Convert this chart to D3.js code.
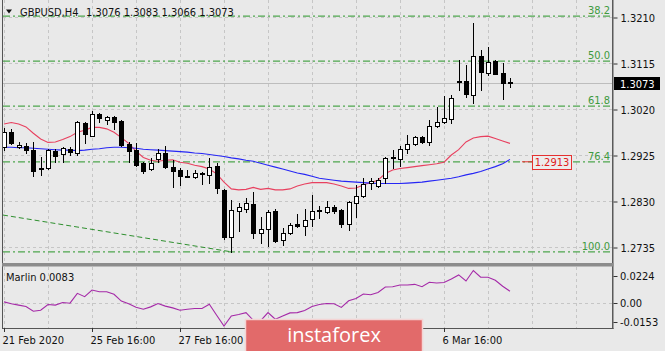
<!DOCTYPE html>
<html>
<head>
<meta charset="utf-8">
<script src="https://cdn.jsdelivr.net/npm/d3@7"></script>
<style>
    html, body { margin: 0; padding: 0; background: #e9e9e9; overflow: hidden; }
    svg text { font-family: "DejaVu Sans Condensed", "DejaVu Sans", sans-serif; font-stretch: condensed; font-size: 11px; }
</style>
</head>
<body>
<div id="chart"></div>
<script>
/* GBPUSD H4 with fibo levels, two moving averages and a Marlin sub window */

// ---- data ----
const symbol = "GBPUSD,H4";

const openP = [1.2941,1.2972,1.2941,1.2944,1.2935,1.2898,1.2898,1.2933,1.2927,1.2937,
    1.2929,1.2991,1.2964,1.3010,1.2997,1.3003,1.2995,1.2948,1.2935,1.2908,
    1.2896,1.2917,1.2929,1.2900,1.2894,1.2882,1.2879,1.2888,1.2884,1.2902,
    1.2853,1.2756,1.2809,1.2813,1.2824,1.2764,1.2772,1.2809,1.2749,1.2764,
    1.2782,1.2778,1.2793,1.2811,1.2807,1.2818,1.2811,1.2782,1.2826,1.2840,
    1.2867,1.2861,1.2877,1.2919,1.2917,1.2937,1.2948,1.2962,1.2952,1.2985,
    1.2993,1.2999,1.3076,1.3078,1.3049,1.3129,1.3094,1.3119,1.3094,1.3076];

const highP = [1.2981,1.2979,1.2952,1.2950,1.2952,1.2921,1.2937,1.2937,1.2941,1.2941,
    1.2995,1.2993,1.3016,1.3012,1.3005,1.3005,1.2997,1.2952,1.2950,1.2910,
    1.2919,1.2937,1.2944,1.2915,1.2898,1.2894,1.2894,1.2890,1.2919,1.2908,
    1.2855,1.2832,1.2826,1.2836,1.2849,1.2797,1.2811,1.2813,1.2774,1.2785,
    1.2803,1.2813,1.2842,1.2820,1.2830,1.2822,1.2813,1.2830,1.2863,1.2877,
    1.2877,1.2877,1.2921,1.2935,1.2944,1.2966,1.2964,1.2964,1.2997,1.3024,
    1.3047,1.3049,1.3121,1.3111,1.3197,1.3142,1.3148,1.3121,1.3115,1.3083];

const lowP = [1.2935,1.2948,1.2939,1.2929,1.2882,1.2884,1.2896,1.2910,1.2910,1.2925,
    1.2925,1.2950,1.2964,1.2993,1.2989,1.2979,1.2944,1.2910,1.2902,1.2888,
    1.2894,1.2910,1.2898,1.2859,1.2863,1.2879,1.2877,1.2865,1.2867,1.2847,
    1.2751,1.2725,1.2768,1.2807,1.2754,1.2743,1.2737,1.2745,1.2739,1.2762,
    1.2776,1.2760,1.2778,1.2795,1.2805,1.2805,1.2776,1.2770,1.2797,1.2838,
    1.2855,1.2859,1.2867,1.2898,1.2902,1.2929,1.2946,1.2950,1.2946,1.2983,
    1.2991,1.2991,1.3059,1.3045,1.3032,1.3059,1.3090,1.3092,1.3041,1.3066];

const closeP = [1.2972,1.2950,1.2946,1.2935,1.2892,1.2896,1.2935,1.2923,1.2939,1.2931,
    1.2993,1.2968,1.3010,1.3001,1.3003,1.2993,1.2946,1.2933,1.2904,1.2892,
    1.2908,1.2929,1.2900,1.2892,1.2882,1.2880,1.2888,1.2886,1.2900,1.2857,
    1.2756,1.2811,1.2818,1.2826,1.2764,1.2772,1.2807,1.2747,1.2764,1.2780,
    1.2778,1.2791,1.2809,1.2809,1.2818,1.2809,1.2782,1.2828,1.2840,1.2865,
    1.2871,1.2873,1.2919,1.2921,1.2937,1.2948,1.2962,1.2952,1.2985,1.2993,
    1.3001,1.3043,1.3078,1.3051,1.3129,1.3096,1.3117,1.3092,1.3074,1.3073];

// fast (red) and slow (blue) moving averages
const maFast = [1.2989,1.2992,1.2989,1.2983,1.2970,1.2958,1.2951,1.2952,1.2957,1.2963,
    1.2972,1.2976,1.2982,1.2982,1.2979,1.2972,1.2961,1.2949,1.2933,1.2920,
    1.2914,1.2912,1.2914,1.2915,1.2910,1.2908,1.2904,1.2901,1.2896,1.2886,
    1.2869,1.2855,1.2853,1.2854,1.2858,1.2854,1.2856,1.2853,1.2853,1.2855,
    1.2861,1.2865,1.2868,1.2868,1.2868,1.2865,1.2861,1.2856,1.2857,1.2863,
    1.2868,1.2873,1.2887,1.2894,1.2897,1.2899,1.2901,1.2903,1.2905,1.2907,
    1.2910,1.2925,1.2936,1.2952,1.2960,1.2963,1.2964,1.2959,1.2954,1.2949];

const maSlow = [1.2941,1.2941,1.2940,1.2940,1.2939,1.2938,1.2937,1.2936,1.2935,1.2935,
    1.2934,1.2935,1.2937,1.2938,1.2940,1.2941,1.2941,1.2940,1.2939,1.2937,
    1.2936,1.2935,1.2934,1.2933,1.2932,1.2931,1.2929,1.2928,1.2926,1.2924,
    1.2922,1.2919,1.2917,1.2914,1.2912,1.2908,1.2904,1.2900,1.2896,1.2892,
    1.2888,1.2885,1.2881,1.2877,1.2875,1.2873,1.2871,1.2870,1.2869,1.2868,
    1.2867,1.2866,1.2866,1.2866,1.2866,1.2867,1.2868,1.2869,1.2871,1.2873,
    1.2875,1.2877,1.2880,1.2884,1.2887,1.2891,1.2896,1.2901,1.2907,1.2916];

const marlin = [0.0011,-0.0002,-0.0011,-0.0021,-0.0053,-0.0046,-0.0007,-0.0011,0.0007,0.0002,
    0.0069,0.0046,0.0091,0.0080,0.0080,0.0062,0.0016,-0.0002,-0.0025,-0.0039,
    -0.0023,0.0000,-0.0018,-0.0030,-0.0046,-0.0039,-0.0034,-0.0034,-0.0005,-0.0080,
    -0.0153,-0.0085,-0.0075,-0.0062,-0.0114,-0.0117,-0.0062,-0.0107,-0.0085,-0.0064,
    -0.0062,-0.0048,-0.0021,-0.0007,0.0000,-0.0002,-0.0027,0.0018,0.0034,0.0064,
    0.0059,0.0075,0.0112,0.0114,0.0126,0.0126,0.0130,0.0114,0.0144,0.0139,
    0.0142,0.0167,0.0194,0.0153,0.0224,0.0178,0.0178,0.0158,0.0117,0.0083];

const priceTicks = [1.3210, 1.3115, 1.3020, 1.2925, 1.2830, 1.2735];
const marlinTicks = [0.0224, 0.00, -0.0153];
const marlinTickText = ["0.0224", "0.00", "-0.0153"];

// labels under the watermark are not visible in the picture, so only these
const dateBars = [0, 12, 24, 60];
const dateLabels = ["21 Feb 2020", "25 Feb 16:00", "27 Feb 16:00", "6 Mar 16:00"];

// fibo retracement
const fibLow = 1.2725, fibHigh = 1.3513;
const fibLevels = [38.2, 50.0, 61.8, 76.4, 100.0];

// trend line (bar index, price)
const trendBars = [0, 31];
const trendPrices = [1.2801, 1.2725];

const labelPrice = 1.2913;

// ---- layout ----
const W = 665, H = 351;
const main = {left: 3, right: 612, top: 0, bottom: 263};
const sub = {top: 267, bottom: 328};

const svg = d3.select("#chart").append("svg")
    .attr("width", W)
    .attr("height", H);

svg.append("rect").attr("width", W).attr("height", H).attr("fill", "#e9e9e9");

// 6 bars (one day) per grid column
const x = d3.scaleLinear().domain([0, 6]).range([4, 48]);
const y = d3.scaleLinear().domain([1.2735, 1.3210]).range([247, 17]);
const ySub = d3.scaleLinear().domain([-0.0153, 0.0224]).range([326, 270.5]);

const defs = svg.append("defs");
defs.append("clipPath").attr("id", "clipMain").append("rect")
    .attr("x", main.left).attr("y", main.top)
    .attr("width", main.right - main.left).attr("height", main.bottom - main.top);
defs.append("clipPath").attr("id", "clipSub").append("rect")
    .attr("x", main.left).attr("y", sub.top)
    .attr("width", main.right - main.left).attr("height", sub.bottom - sub.top);

const gMain = svg.append("g").attr("clip-path", "url(#clipMain)");
const gSub = svg.append("g").attr("clip-path", "url(#clipSub)");

// ---- grid ----
const gridX = d3.range(0, 84, 6);
[gMain, gSub].forEach((g, k) => {
    g.selectAll(".vgrid")
        .data(gridX)
        .enter().append("line")
        .attr("x1", d => Math.round(x(d)) + 0.5)
        .attr("x2", d => Math.round(x(d)) + 0.5)
        .attr("y1", k === 0 ? main.top : sub.top)
        .attr("y2", k === 0 ? main.bottom : sub.bottom)
        .attr("stroke", "#c6c6c6")
        .attr("stroke-dasharray", "3,3");
});

gMain.selectAll(".hgrid")
    .data(priceTicks)
    .enter().append("line")
    .attr("x1", main.left).attr("x2", main.right)
    .attr("y1", d => Math.round(y(d)) + 0.5)
    .attr("y2", d => Math.round(y(d)) + 0.5)
    .attr("stroke", "#c6c6c6")
    .attr("stroke-dasharray", "3,3");

gSub.append("line")
    .attr("x1", main.left).attr("x2", main.right)
    .attr("y1", Math.round(ySub(0)) + 0.5).attr("y2", Math.round(ySub(0)) + 0.5)
    .attr("stroke", "#c6c6c6")
    .attr("stroke-dasharray", "3,3");

// current price line
const lastClose = closeP[closeP.length - 1];
gMain.append("line")
    .attr("x1", main.left).attr("x2", main.right)
    .attr("y1", Math.round(y(lastClose)) + 0.5).attr("y2", Math.round(y(lastClose)) + 0.5)
    .attr("stroke", "#bdbdbd");

// ---- fibo levels ----
const fibPrice = lvl => fibLow + (1 - lvl / 100) * (fibHigh - fibLow);

gMain.selectAll(".fib")
    .data(fibLevels)
    .enter().append("line")
    .attr("x1", main.left).attr("x2", main.right)
    .attr("y1", d => y(fibPrice(d)))
    .attr("y2", d => y(fibPrice(d)))
    .attr("stroke", "#4ea64e")
    .attr("stroke-width", 1.3)
    .attr("stroke-dasharray", "7,3,2,3");

gMain.selectAll(".fibText")
    .data(fibLevels)
    .enter().append("text")
    .attr("x", 610)
    .attr("y", d => y(fibPrice(d)) - 2)
    .attr("text-anchor", "end")
    .attr("fill", "#3e9a3e")
    .text(d => d.toFixed(1));

// trend line
gMain.append("line")
    .attr("x1", x(trendBars[0]) - 1).attr("y1", y(trendPrices[0]))
    .attr("x2", x(trendBars[1])).attr("y2", y(trendPrices[1]))
    .attr("stroke", "#2e8f2e")
    .attr("stroke-dasharray", "5,3");

// ---- moving averages ----
const line = d3.line().x((d, i) => x(i)).y(d => y(d));

gMain.append("path").datum(maFast)
    .attr("d", line).attr("fill", "none")
    .attr("stroke", "#e8405f").attr("stroke-width", 1.1);

gMain.append("path").datum(maSlow)
    .attr("d", line).attr("fill", "none")
    .attr("stroke", "#2626f5").attr("stroke-width", 1.1);

// ---- candles ----
const candles = openP.map((o, i) => ({i: i, o: o, h: highP[i], l: lowP[i], c: closeP[i]}));

const gCandle = gMain.selectAll(".candle")
    .data(candles)
    .enter().append("g");

gCandle.append("line")
    .attr("x1", d => Math.round(x(d.i)) + 0.5)
    .attr("x2", d => Math.round(x(d.i)) + 0.5)
    .attr("y1", d => Math.round(y(d.h)))
    .attr("y2", d => Math.round(y(d.l)) + 1)
    .attr("stroke", "#000");

gCandle.append("rect")
    .attr("x", d => Math.round(x(d.i)) - 1.5)
    .attr("y", d => Math.round(y(Math.max(d.o, d.c))) + 0.5)
    .attr("width", 4)
    .attr("height", d => Math.max(0, Math.round(y(Math.min(d.o, d.c))) - Math.round(y(Math.max(d.o, d.c)))))
    .attr("fill", d => d.c >= d.o ? "#fff" : "#000")
    .attr("stroke", "#000");

// ---- marlin ----
const subLine = d3.line().x((d, i) => x(i)).y(d => ySub(d));
gSub.append("path").datum(marlin)
    .attr("d", subLine).attr("fill", "none")
    .attr("stroke", "#a52aa8").attr("stroke-width", 1.1);

// ---- frame ----
svg.append("line").attr("x1", 2.5).attr("x2", 2.5).attr("y1", 0).attr("y2", sub.bottom)
    .attr("stroke", "#555");
svg.append("line").attr("x1", 612.75).attr("x2", 612.75).attr("y1", 0).attr("y2", sub.bottom + 1)
    .attr("stroke", "#5a5a5a").attr("stroke-width", 1.5);
svg.append("rect").attr("x", 2).attr("y", 263).attr("width", 611.5).attr("height", 3.5)
    .attr("fill", "#8c8c8c");
svg.append("line").attr("x1", 2).attr("x2", 613.5).attr("y1", sub.bottom + 0.5).attr("y2", sub.bottom + 0.5)
    .attr("stroke", "#555");

// ---- price axis ----
const yAxis = d3.axisRight(y)
    .tickValues(priceTicks)
    .tickSize(4)
    .tickPadding(3)
    .tickFormat(d3.format(".4f"));

const gAxis = svg.append("g")
    .attr("transform", "translate(613.5,0.5)")
    .call(yAxis);
gAxis.select(".domain").remove();
gAxis.selectAll(".tick line").attr("stroke", "#333");
gAxis.selectAll("text").attr("fill", "#111").style("font-size", "11px")
    .style("font-family", "'DejaVu Sans Condensed', 'DejaVu Sans', sans-serif");

// current price tag
svg.append("rect")
    .attr("x", 614).attr("y", Math.round(y(lastClose)) - 6)
    .attr("width", 46).attr("height", 13)
    .attr("fill", "#000");
svg.append("text")
    .attr("x", 620).attr("y", Math.round(y(lastClose)) + 4.5)
    .attr("fill", "#fff")
    .text(d3.format(".4f")(lastClose));

// marlin axis (top and bottom labels pulled inside the window)
marlinTicks.forEach((v, k) => {
    const ty = Math.min(Math.max(ySub(v), 276), 322);
    svg.append("line")
        .attr("x1", 613.5).attr("x2", 617.5)
        .attr("y1", Math.round(ty) + 0.5).attr("y2", Math.round(ty) + 0.5)
        .attr("stroke", "#333");
    svg.append("text")
        .attr("x", 620).attr("y", ty + 4)
        .attr("fill", "#111")
        .text(marlinTickText[k]);
});

// ---- red price label on the 76.4 level ----
const labelY = y(fibPrice(76.4));
svg.append("line")
    .attr("x1", 522).attr("x2", 533)
    .attr("y1", labelY).attr("y2", labelY)
    .attr("stroke", "#e53030");
svg.append("rect")
    .attr("x", 532.5).attr("y", Math.round(labelY) - 6.5)
    .attr("width", 39).attr("height", 14)
    .attr("fill", "#ececec")
    .attr("stroke", "#e53030");
svg.append("text")
    .attr("x", 552).attr("y", Math.round(labelY) + 4)
    .attr("text-anchor", "middle")
    .attr("fill", "#e02020")
    .text(labelPrice.toFixed(4));

// ---- headers ----
svg.append("path")
    .attr("d", "M6,9.5 L12,9.5 L9,13.5 Z")
    .attr("fill", "#111");
svg.append("text")
    .attr("x", 20).attr("y", 16)
    .attr("fill", "#111")
    .text(symbol);
const last = candles[candles.length - 1];
svg.append("text")
    .attr("x", 86).attr("y", 16)
    .attr("fill", "#111")
    .text([last.o, last.h, last.l, last.c].map(d3.format(".4f")).join(" "));

svg.append("text")
    .attr("x", 6).attr("y", 281)
    .attr("fill", "#111")
    .text("Marlin " + d3.format(".4f")(marlin[marlin.length - 1]));

// ---- time axis ----
dateBars.forEach((b, k) => {
    const tx = Math.round(x(b)) + 0.5;
    svg.append("line")
        .attr("x1", tx).attr("x2", tx)
        .attr("y1", sub.bottom).attr("y2", sub.bottom + 4)
        .attr("stroke", "#333");
    svg.append("text")
        .attr("x", tx - 2).attr("y", 344)
        .attr("fill", "#111")
        .text(dateLabels[k]);
});

// ---- watermark ----
svg.append("rect")
    .attr("x", 245.5).attr("y", 319.5)
    .attr("width", 177).attr("height", 34)
    .attr("fill", "#e26a6a")
    .attr("stroke", "#f4d4d4")
    .attr("stroke-width", 1.5);
svg.append("text")
    .attr("x", 334).attr("y", 342)
    .attr("text-anchor", "middle")
    .attr("fill", "#fff")
    .style("font-family", "'Open Sans', sans-serif")
    .style("font-stretch", "normal")
    .style("font-size", "20px")
    .text("instaforex");
</script>
</body>
</html>
